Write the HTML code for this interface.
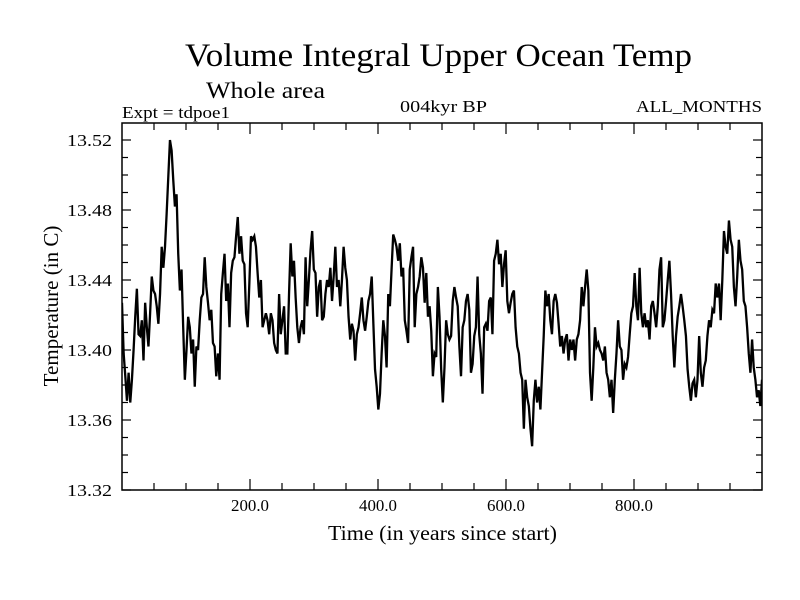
<!DOCTYPE html>
<html><head><meta charset="utf-8">
<style>
html,body{margin:0;padding:0;background:#fff;}
svg{display:block;font-family:"Liberation Serif",serif;}
</style></head>
<body>
<svg id="chart" width="800" height="600" viewBox="0 0 800 600" xmlns="http://www.w3.org/2000/svg">
<text x="185" y="66" font-size="33" textLength="507" lengthAdjust="spacingAndGlyphs">Volume Integral Upper Ocean Temp</text>
<text x="206" y="98" font-size="23" textLength="119" lengthAdjust="spacingAndGlyphs">Whole area</text>
<text x="122" y="118" font-size="17" textLength="108" lengthAdjust="spacingAndGlyphs">Expt = tdpoe1</text>
<text x="400" y="112" font-size="17" textLength="87" lengthAdjust="spacingAndGlyphs">004kyr BP</text>
<text x="636" y="112" font-size="17" textLength="126" lengthAdjust="spacingAndGlyphs">ALL_MONTHS</text>
<text x="328" y="540" font-size="21" textLength="229" lengthAdjust="spacingAndGlyphs">Time (in years since start)</text>
<text x="58" y="306" font-size="21" text-anchor="middle" transform="rotate(-90 58 306)">Temperature (in C)</text>
<g id="ticks"></g>
<g id="labels"></g>
<path id="series" fill="none" stroke="#000" stroke-width="2.3" stroke-linejoin="miter" clip-path="url(#clip)"/>
<clipPath id="clip"><rect x="122" y="123" width="640" height="367"/></clipPath>
<rect x="122" y="123" width="640" height="367" fill="none" stroke="#000" stroke-width="1.5"/>
</svg>
<script>
const yTicks = [13.32, 13.36, 13.40, 13.44, 13.48, 13.52];
const yTickLabels = ["13.32", "13.36", "13.40", "13.44", "13.48", "13.52"];
const xTicks = [200, 400, 600, 800];
const xTickLabels = ["200.0", "400.0", "600.0", "800.0"];
const xStart = 0;
const xEnd = 1000;
const temps = [
13.427,13.398,13.385,13.371,13.387,13.370,13.383,13.400,13.419,13.435,13.409,13.408,13.417,13.394,13.427,13.413,13.402,13.421,13.442,13.434,13.432,13.425,13.415,13.432,13.459,13.447,13.459,13.478,13.499,13.520,13.514,13.497,13.482,13.489,13.455,13.434,13.446,13.413,13.383,13.400,13.419,13.413,13.398,13.406,13.379,13.402,13.400,13.417,13.430,13.432,13.453,13.436,13.427,13.417,13.423,13.404,13.402,13.385,13.398,13.383,13.432,13.444,13.455,13.428,13.438,13.413,13.444,13.451,13.453,13.465,13.476,13.455,13.465,13.451,13.449,13.421,13.413,13.438,13.465,13.463,13.465,13.459,13.444,13.430,13.440,13.413,13.417,13.421,13.417,13.409,13.421,13.417,13.404,13.400,13.398,13.432,13.409,13.417,13.425,13.398,13.398,13.432,13.461,13.442,13.451,13.430,13.413,13.404,13.413,13.417,13.409,13.453,13.425,13.440,13.457,13.468,13.446,13.444,13.419,13.436,13.440,13.417,13.419,13.432,13.440,13.436,13.447,13.428,13.442,13.459,13.436,13.440,13.425,
13.440,13.459,13.447,13.440,13.419,13.406,13.415,13.411,13.394,13.409,13.413,13.421,13.430,13.417,13.411,13.419,13.428,13.432,13.442,13.415,13.389,13.379,13.366,13.375,13.398,13.417,13.408,13.390,13.432,13.425,13.446,13.466,13.463,13.459,13.451,13.461,13.442,13.447,13.417,13.411,13.404,13.446,13.453,13.459,13.413,13.432,13.436,13.442,13.453,13.447,13.427,13.444,13.419,13.425,13.411,13.385,13.398,13.396,13.436,13.419,13.389,13.370,13.390,13.417,13.409,13.406,13.408,13.428,13.436,13.430,13.425,13.402,13.385,13.413,13.417,13.428,13.432,13.423,13.387,13.392,13.408,13.413,13.442,13.409,13.398,13.375,13.413,13.415,13.411,13.428,13.430,13.409,13.451,13.455,13.463,13.449,13.455,13.436,13.449,13.457,13.428,13.421,13.427,13.432,13.434,13.413,13.402,13.398,13.387,13.383,13.355,13.383,13.373,13.368,13.355,13.345,13.371,13.383,13.370,13.379,13.366,13.387,13.408,
13.434,13.425,13.432,13.417,13.409,13.428,13.432,13.427,13.415,13.402,13.408,13.398,13.406,13.409,13.394,13.406,13.400,13.406,13.394,13.406,13.409,13.417,13.436,13.425,13.436,13.446,13.434,13.387,13.371,13.390,13.413,13.402,13.404,13.400,13.398,13.394,13.402,13.387,13.383,13.373,13.383,13.364,13.383,13.398,13.417,13.402,13.400,13.383,13.392,13.390,13.396,13.409,13.421,13.425,13.444,13.425,13.417,13.447,13.421,13.413,13.421,13.413,13.417,13.406,13.425,13.428,13.421,13.413,13.425,13.446,13.453,13.413,13.417,13.428,13.440,13.451,13.432,13.408,13.390,13.408,13.419,13.425,13.432,13.425,13.417,13.408,13.389,13.379,13.371,13.381,13.383,13.373,13.383,13.408,13.387,13.379,13.390,13.394,13.408,13.417,13.413,13.423,13.421,13.438,13.430,13.438,13.417,13.440,13.468,13.459,13.455,13.474,13.463,13.459,13.436,13.425,13.442,13.463,13.451,13.446,13.428,13.425,13.413,13.398,13.387,13.406,13.390,13.383,13.373,13.377,13.368,13.383
];
const L=122,R=762,T=123,B=490, yMin=13.32;
function sx(v){return L+(v-xStart)/(xEnd-xStart)*(R-L);}
function sy(v){return B-(v-yMin)/(13.52-yMin)*(B-140);}
const NS="http://www.w3.org/2000/svg";
const tg=document.getElementById('ticks'), lg=document.getElementById('labels');
function line(x1,y1,x2,y2,name){
  const l=document.createElementNS(NS,'line');
  l.setAttribute('x1',x1);l.setAttribute('y1',y1);l.setAttribute('x2',x2);l.setAttribute('y2',y2);
  l.setAttribute('stroke','#000');l.setAttribute('stroke-width','1.2');
  
  
  tg.appendChild(l);
}
for(let k=0;k<=21;k++){
  const v=13.32+k*0.01, y=sy(v); if(y<T) continue;
  const major=(k%4===0), len=major?9:6;
  line(L,y,L+len,y,'y-tick');
  line(R,y,R-len,y,'y-tick-right');
}
for(let yr=50;yr<1000;yr+=50){
  const x=sx(yr), major=(yr%200===0), len=major?11:7;
  line(x,B,x,B-len,'x-tick');
  line(x,T,x,T+len,'x-tick-top');
}
yTicks.forEach((v,i)=>{
  const t=document.createElementNS(NS,'text');
  t.setAttribute('x',67);t.setAttribute('y',sy(v)+6);t.setAttribute('font-size','17');
  t.setAttribute('textLength','45');t.setAttribute('lengthAdjust','spacingAndGlyphs');
  t.textContent=yTickLabels[i];
  
  
  lg.appendChild(t);
});
xTicks.forEach((v,i)=>{
  const t=document.createElementNS(NS,'text');
  t.setAttribute('x',sx(v)-19);t.setAttribute('y',511);t.setAttribute('font-size','17');
  t.setAttribute('textLength','38');t.setAttribute('lengthAdjust','spacingAndGlyphs');
  t.textContent=xTickLabels[i];
  
  
  lg.appendChild(t);
});
const n=temps.length;
let d='';
temps.forEach((v,i)=>{
  const yr=xStart+i*(xEnd-xStart)/(n-1);
  d+=(i?'L':'M')+sx(yr).toFixed(2)+' '+sy(v).toFixed(2);
});
document.getElementById('series').setAttribute('d',d);
</script>
</body></html>
